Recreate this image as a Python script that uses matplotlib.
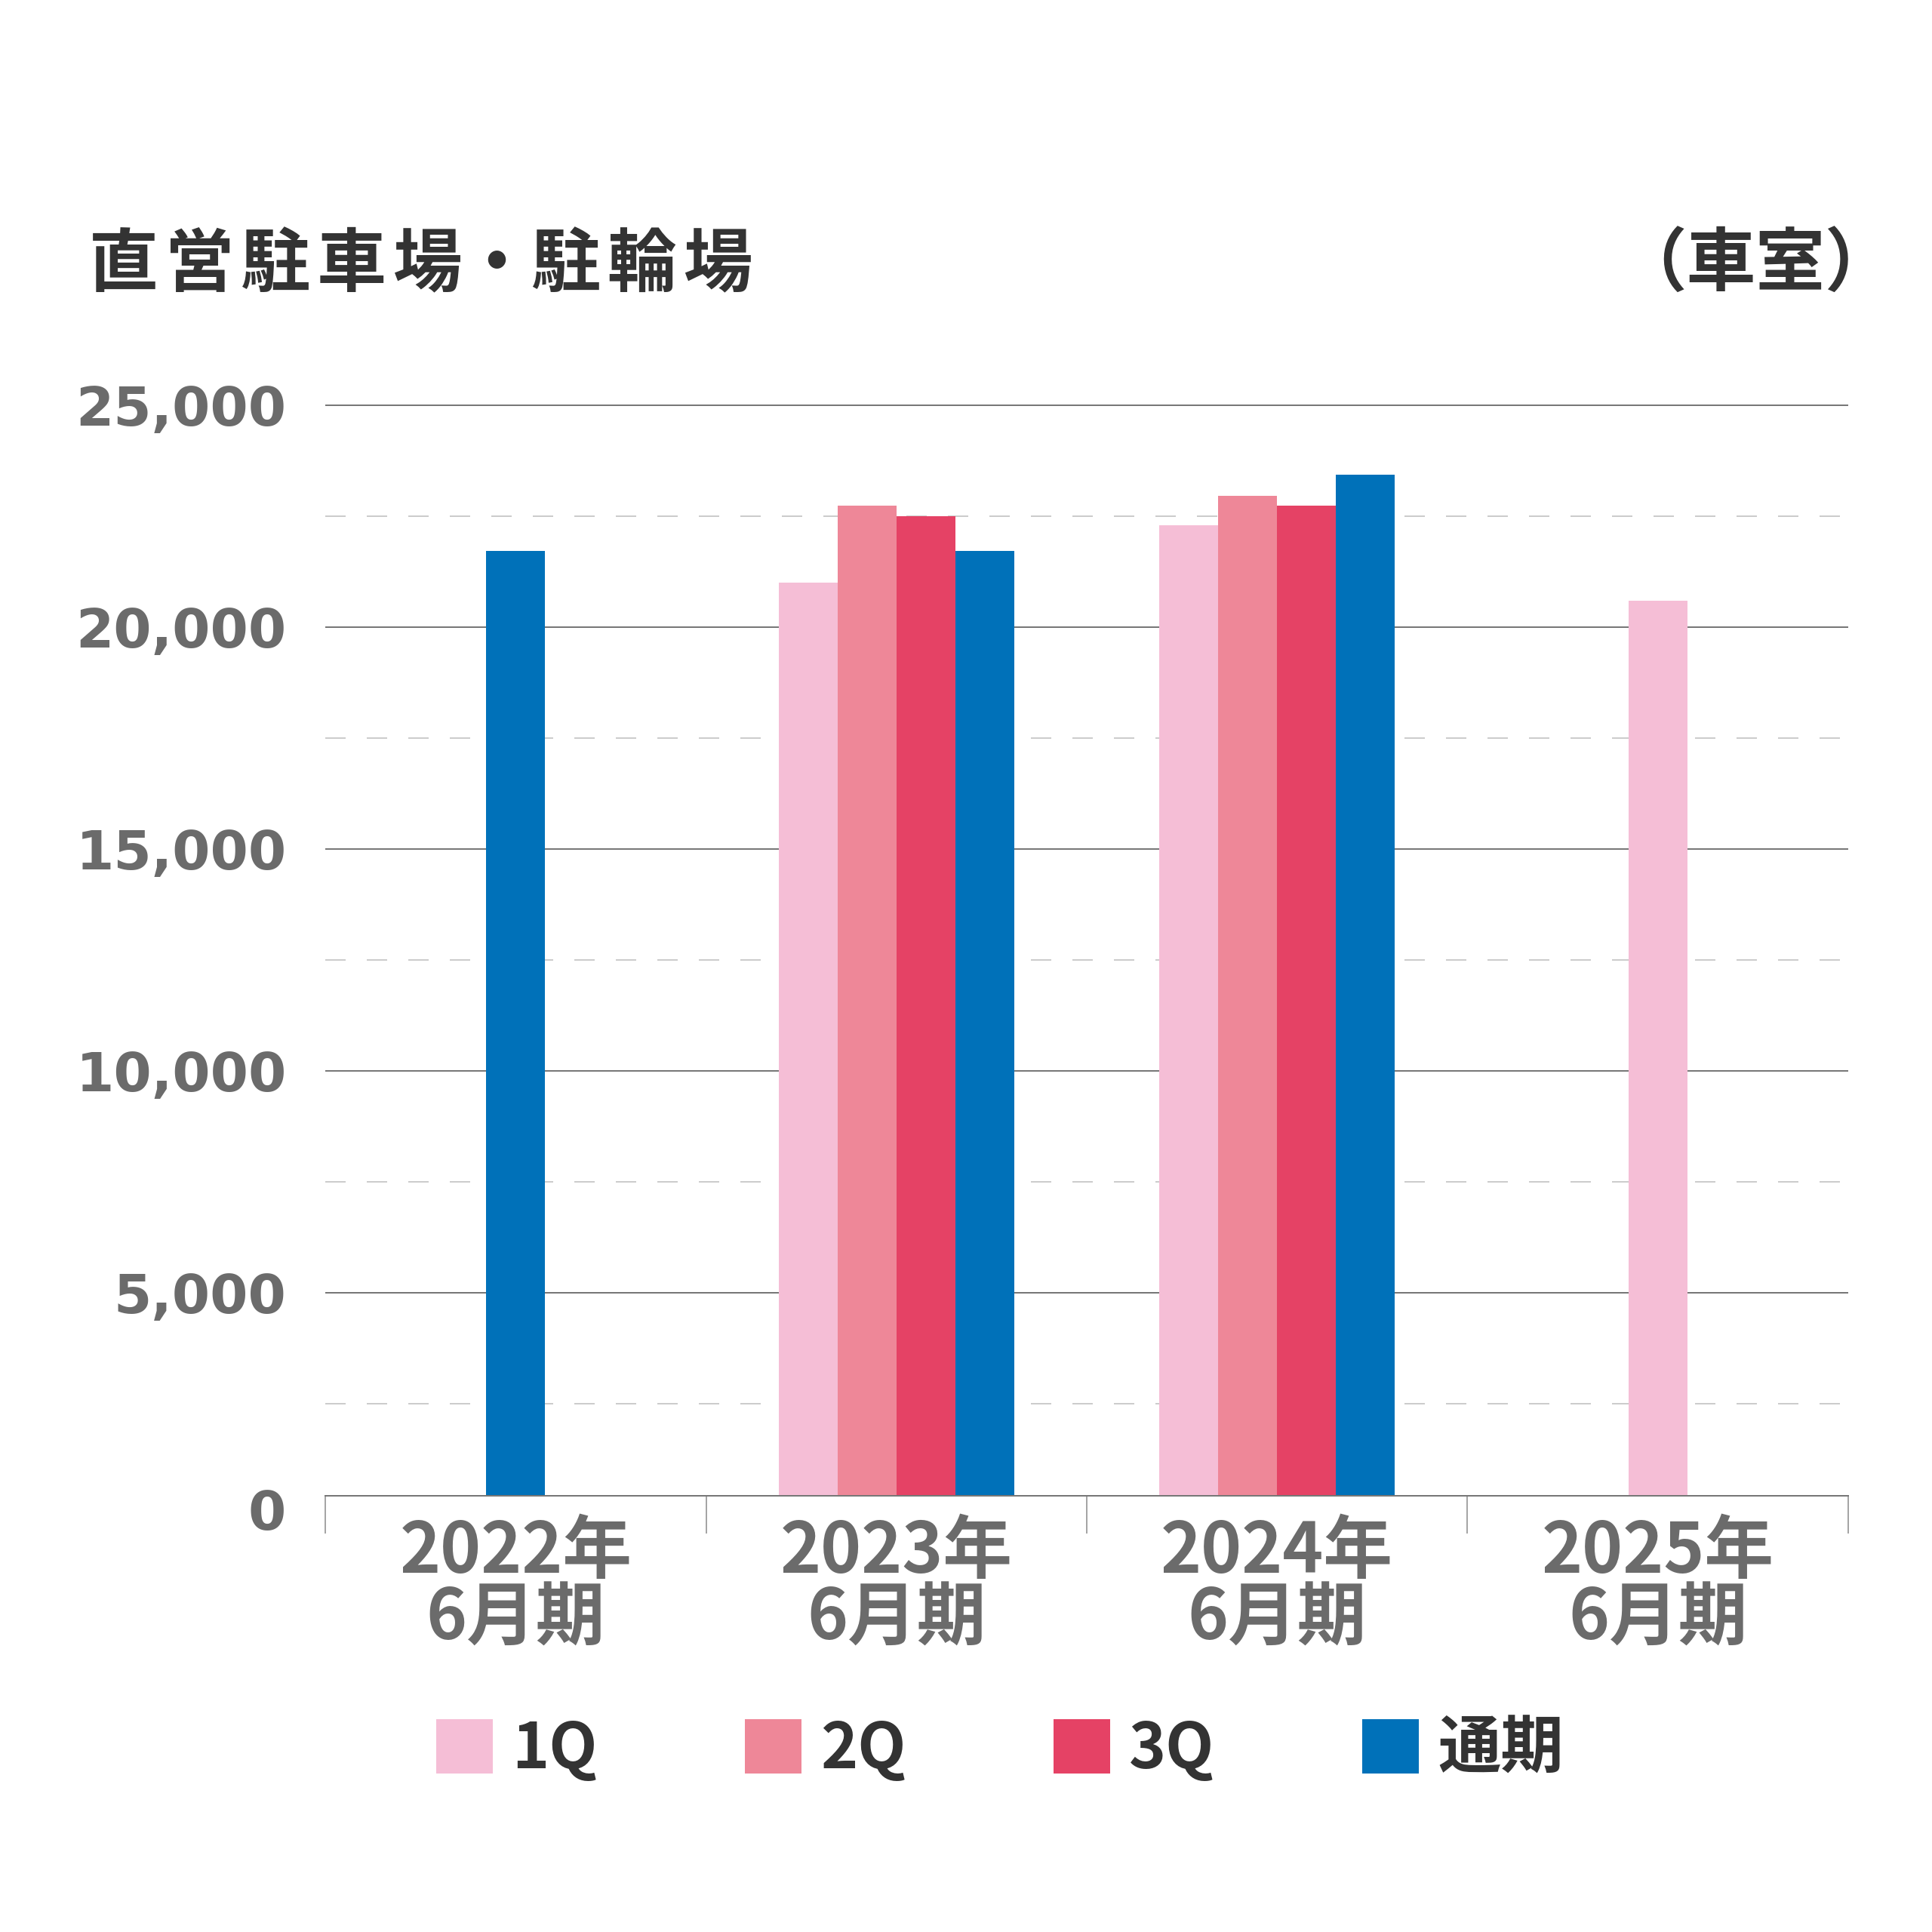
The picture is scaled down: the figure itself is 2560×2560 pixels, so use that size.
import numpy as np
import matplotlib
matplotlib.use("Agg")
from matplotlib import pyplot as plt

plt.rcParams['font.family'] = ['Noto Sans CJK JP', 'DejaVu Sans']

# data
periods = ['2022年\n6月期', '2023年\n6月期', '2024年\n6月期', '2025年\n6月期']
series_names = ['1Q', '2Q', '3Q', '通期']
q1 = [np.nan, 21000, 22300, 20600]
q2 = [np.nan, 22730, 22960, np.nan]
q3 = [np.nan, 22500, 22730, np.nan]
full_year = [21720, 21720, 23430, np.nan]
colors = ['#F5BED6', '#EE8798', '#E54265', '#0071B9']

title = '直営駐車場・駐輪場'
unit = '（車室）'

values = np.array([q1, q2, q3, full_year], dtype=float)

fig = plt.figure(figsize=(25.6, 25.6), dpi=100)
ax = fig.add_axes([0.1684, 0.22578, 0.7882, 0.56563])

bar_w = 0.1545
x = np.arange(len(periods))
handles = []
for s, name in enumerate(series_names):
    xs, hs = [], []
    for g in range(len(periods)):
        present = [k for k in range(len(series_names)) if not np.isnan(values[k, g])]
        if s not in present:
            continue
        n = len(present)
        idx = present.index(s)
        xs.append(x[g] + (idx - (n - 1) / 2) * bar_w)
        hs.append(values[s, g])
    bc = ax.bar(xs, hs, width=bar_w, color=colors[s], label=name, zorder=3,
                linewidth=0)
    handles.append(bc)

ax.set_xlim(-0.5, len(periods) - 0.5)
ax.set_ylim(430, 25050)

ax.set_yticks([5000, 10000, 15000, 20000, 25000])
ax.set_yticklabels(['5,000', '10,000', '15,000', '20,000', '25,000'])
ax.set_yticks(np.arange(2500, 25000, 5000), minor=True)
ax.grid(axis='y', which='major', color='#777777', linewidth=1.44, zorder=1)
ax.grid(axis='y', which='minor', color='#cccccc', linewidth=1.44,
        linestyle=(0, (13.5, 14)), zorder=1)
ax.set_axisbelow(True)

ax.tick_params(axis='y', which='both', length=0, pad=37,
               labelsize=52, labelcolor='#6b6b6b')
for t in ax.get_yticklabels():
    t.set_fontweight('bold')
    t.set_family('DejaVu Sans')

# the zero label sits below the cut-off baseline
ax.text(-52 / 2018, 0, '0', transform=ax.get_yaxis_transform(),
        ha='right', va='center', fontsize=52, fontweight='bold',
        color='#6b6b6b', family='DejaVu Sans', clip_on=False)

ax.set_xticks(x)
ax.set_xticklabels(periods)
ax.set_xticks(np.arange(-0.5, len(periods)), minor=True)
ax.tick_params(axis='x', which='major', length=0, pad=20,
               labelsize=66, labelcolor='#6b6b6b')
ax.tick_params(axis='x', which='minor', length=36, width=1.1,
               color='#8a8a8a', direction='out')
for t in ax.get_xticklabels():
    t.set_fontweight('bold')
    t.set_linespacing(0.93)

for side in ['top', 'right', 'left']:
    ax.spines[side].set_visible(False)
ax.spines['bottom'].set_color('#777777')
ax.spines['bottom'].set_linewidth(1.44)
ax.spines['bottom'].set_zorder(4)

# title with a little letter spacing (hair spaces)
hs_ = '\u200a'
spaced_title = (hs_.join(title[:5]) + title[5] + hs_.join(title[6:]))
fig.text(118 / 2560, 1 - 352 / 2560, spaced_title, ha='left', va='center',
         fontsize=66, fontweight='bold', color='#333333',
         family=['Noto Sans CJK JP', 'DejaVu Sans'])
fig.text(2510 / 2560, 1 - 352 / 2560, unit, ha='right', va='center',
         fontsize=66, fontweight='bold', color='#333333')

leg = fig.legend(handles=handles, labels=series_names, loc='center',
                 bbox_to_anchor=(0.5176, 0.0945), ncol=4, frameon=False,
                 fontsize=60, handlelength=0.9, handleheight=0.95,
                 handletextpad=0.3, columnspacing=2.35)
for t in leg.get_texts():
    t.set_fontweight('bold')
    t.set_color('#333333')

fig.savefig('out.png', dpi=100, facecolor='white')
